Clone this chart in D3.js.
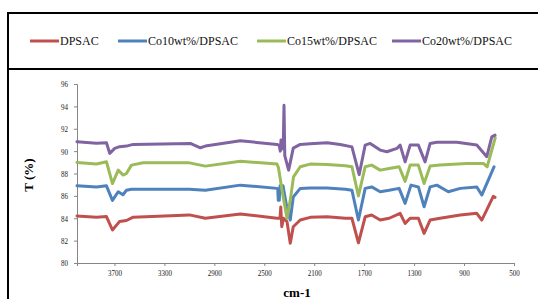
<!DOCTYPE html>
<html>
<head>
<meta charset="utf-8">
<script src="https://cdn.jsdelivr.net/npm/d3@7"></script>
<style>
  body { margin: 0; background: #fff; }
  svg { display: block; }
</style>
</head>
<body>
<svg id="chart" width="538" height="299"></svg>
<script>
// series names, colours and [wavenumber, T%] points
let seriesNames = ["DPSAC", "Co10wt%/DPSAC", "Co15wt%/DPSAC", "Co20wt%/DPSAC"];
let seriesColors = ["#C0504D", "#4F81BD", "#9BBB59", "#8064A2"];

let dpsac = [
    [4000, 84.2], [3844, 84.1], [3764, 84.15], [3716, 82.95], [3660, 83.7], [3604, 83.8],
    [3550, 84.1], [3100, 84.3], [2972, 84.0], [2692, 84.38], [2398, 84.0], [2374, 84.0],
    [2368, 85.0], [2360, 83.24], [2346, 84.0], [2318, 83.7], [2292, 81.76], [2268, 83.24],
    [2212, 83.84], [2132, 84.08], [1998, 84.13], [1850, 84.0], [1798, 83.99], [1746, 81.8],
    [1692, 84.13], [1640, 84.29], [1572, 83.84], [1500, 84.0], [1412, 84.44], [1372, 83.54],
    [1332, 84.0], [1266, 84.0], [1220, 82.65], [1172, 83.84], [1092, 84.0], [930, 84.29],
    [798, 84.44], [758, 83.84], [666, 85.95], [652, 85.87]
];
let co10 = [
    [4000, 86.9], [3844, 86.8], [3764, 86.9], [3716, 85.6], [3670, 86.37], [3632, 86.1],
    [3604, 86.5], [3564, 86.6], [3100, 86.6], [2972, 86.5], [2692, 86.96], [2398, 86.67],
    [2392, 86.6], [2388, 85.6], [2380, 85.6], [2374, 86.9], [2350, 86.9], [2320, 85.0],
    [2292, 83.84], [2268, 85.9], [2212, 86.67], [2132, 86.7], [1998, 86.7], [1850, 86.6],
    [1798, 86.5], [1746, 83.84], [1692, 86.67], [1640, 86.8], [1572, 86.37], [1500, 86.5],
    [1420, 86.67], [1372, 85.33], [1325, 86.96], [1266, 86.8], [1220, 85.03], [1172, 86.8],
    [1118, 86.96], [1026, 86.37], [930, 86.67], [798, 86.8], [758, 86.07], [660, 88.6]
];
let co15 = [
    [4000, 88.99], [3844, 88.85], [3764, 89.05], [3716, 87.1], [3670, 88.3], [3630, 87.86],
    [3604, 88.0], [3564, 88.75], [3470, 88.96], [3100, 88.95], [2972, 88.66], [2692, 89.1],
    [2398, 88.84], [2386, 88.5], [2358, 86.5], [2318, 84.0], [2292, 85.6], [2266, 87.7],
    [2212, 88.6], [2132, 88.84], [1998, 88.8], [1850, 88.7], [1798, 88.6], [1746, 86.0],
    [1692, 88.6], [1640, 88.75], [1572, 88.3], [1500, 88.45], [1420, 88.6], [1372, 87.3],
    [1332, 88.75], [1266, 88.75], [1220, 87.1], [1172, 88.66], [1092, 88.75], [880, 88.9],
    [745, 88.9], [715, 88.6], [650, 91.2]
];
let co20 = [
    [4000, 90.83], [3844, 90.7], [3764, 90.75], [3738, 89.8], [3698, 90.24], [3658, 90.4],
    [3604, 90.45], [3550, 90.6], [3092, 90.69], [3012, 90.3], [2972, 90.45], [2692, 90.92],
    [2398, 90.6], [2380, 90.5], [2372, 90.0], [2366, 91.0], [2358, 90.2], [2348, 90.6],
    [2342, 94.1], [2336, 89.6], [2305, 88.3], [2268, 90.27], [2212, 90.6], [2132, 90.65],
    [1998, 90.75], [1892, 90.6], [1798, 90.38], [1740, 87.9], [1692, 90.54], [1652, 90.69],
    [1572, 90.09], [1518, 89.94], [1438, 90.24], [1412, 90.54], [1372, 89.04], [1332, 90.54],
    [1266, 90.54], [1212, 89.04], [1172, 90.69], [1118, 90.8], [958, 90.8], [798, 90.54],
    [718, 89.5], [678, 91.28], [652, 91.43]
];
let seriesData = [dpsac, co10, co15, co20];

let xTicks = [3700, 3300, 2900, 2500, 2100, 1700, 1300, 900, 500];
let yTicks = [80, 82, 84, 86, 88, 90, 92, 94, 96];

let svg = d3.select("#chart");

// frames round legend and plot
svg.append("rect")
    .attr("x", 8).attr("y", 13).attr("width", 600).attr("height", 56)
    .attr("fill", "none").attr("stroke", "#000").attr("stroke-width", 2);
svg.append("rect")
    .attr("x", 8).attr("y", 69).attr("width", 600).attr("height", 300)
    .attr("fill", "none").attr("stroke", "#000").attr("stroke-width", 2);

let xScale = d3.scaleLinear().domain([4000, 500]).range([77, 514]);
let yScale = d3.scaleLinear().domain([80, 96]).range([263, 84]);

function squeeze(g) {
    g.selectAll(".tick text").each(function () {
        let t = d3.select(this);
        let x = +t.attr("x") || 0;
        t.attr("x", 0).attr("transform", "translate(" + x + ",0) scale(0.78,1)");
    });
}

let yAxis = d3.axisLeft(yScale).tickValues(yTicks).tickSize(3).tickPadding(6)
    .tickFormat(d3.format("d"));
let yAxisG = svg.append("g")
    .attr("transform", "translate(77,0)")
    .call(yAxis);

let xAxis = d3.axisBottom(xScale).tickValues(xTicks).tickSize(3).tickPadding(4)
    .tickFormat(d3.format("d"));
let xAxisG = svg.append("g")
    .attr("transform", "translate(0,263)")
    .call(xAxis);

[xAxisG, yAxisG].forEach(function (g) {
    g.select(".domain").attr("stroke", "#868686");
    g.selectAll(".tick line").attr("stroke", "#868686");
    g.selectAll(".tick text")
        .attr("font-family", "Liberation Serif")
        .attr("font-size", 9)
        .attr("fill", "#222");
    squeeze(g);
});

// lines
let line = d3.line()
    .x(function (d) { return xScale(d[0]); })
    .y(function (d) { return yScale(d[1]); });

svg.append("g").selectAll("path")
    .data(seriesData)
    .enter().append("path")
    .attr("d", line)
    .attr("fill", "none")
    .attr("stroke", function (d, i) { return seriesColors[i]; })
    .attr("stroke-width", 3)
    .attr("stroke-linejoin", "round")
    .attr("stroke-linecap", "round");

// axis titles
svg.append("text")
    .attr("transform", "translate(33,175) rotate(-90)")
    .attr("text-anchor", "middle")
    .attr("font-family", "Liberation Serif")
    .attr("font-weight", "bold")
    .attr("font-size", 13)
    .text("T (%)");

svg.append("text")
    .attr("x", 297)
    .attr("y", 297)
    .attr("text-anchor", "middle")
    .attr("font-family", "Liberation Serif")
    .attr("font-weight", "bold")
    .attr("font-size", 13)
    .text("cm-1");

// legend
let legendX = [30, 118, 257, 392];
let legend = svg.append("g").selectAll("g")
    .data(seriesNames)
    .enter().append("g")
    .attr("transform", function (d, i) { return "translate(" + legendX[i] + ",41)"; });

legend.append("line")
    .attr("x1", 0).attr("x2", 29).attr("y1", 0).attr("y2", 0)
    .attr("stroke", function (d, i) { return seriesColors[i]; })
    .attr("stroke-width", 3);

legend.append("text")
    .attr("x", 30)
    .attr("y", 4)
    .attr("font-family", "Liberation Serif")
    .attr("font-size", 12)
    .attr("fill", "#111")
    .text(function (d) { return d; });
</script>
</body>
</html>
